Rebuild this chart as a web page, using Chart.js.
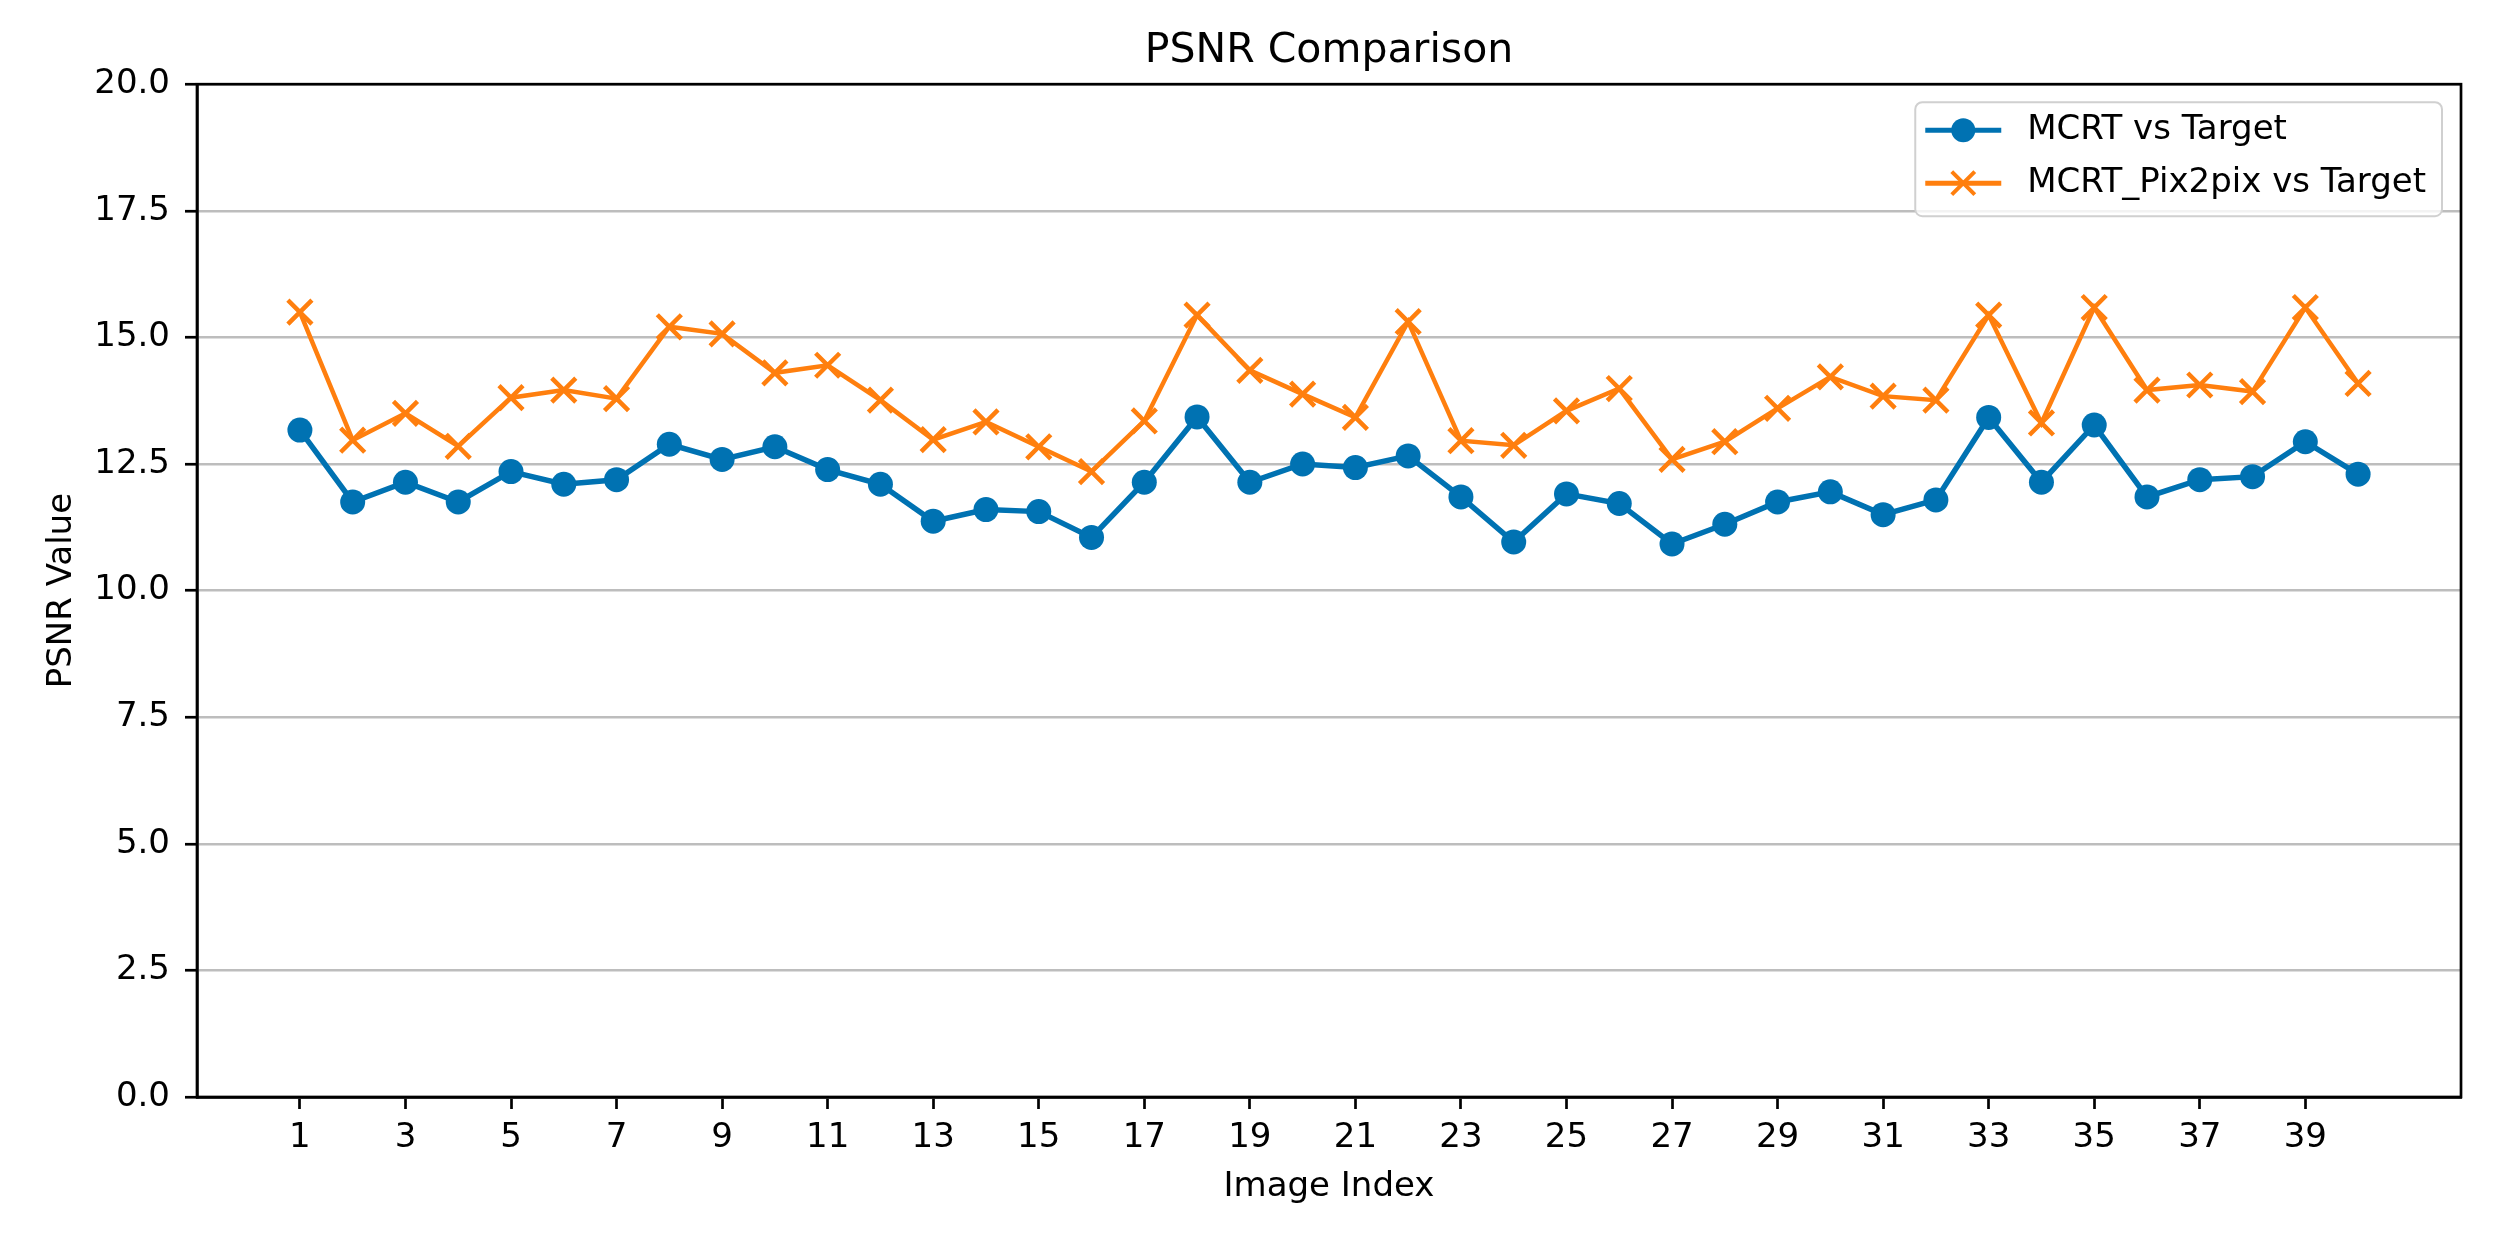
<!DOCTYPE html>
<html>
<head>
<meta charset="utf-8">
<title>PSNR Comparison</title>
<script src="https://cdn.jsdelivr.net/npm/chart.js@4.4.1/dist/chart.umd.min.js"></script>
<style>
    html, body { margin: 0; padding: 0; background: #ffffff; }
    #wrap { width: 2510px; height: 1253px; }
</style>
</head>
<body>
<div id="wrap"><canvas id="psnrChart" width="2510" height="1253"></canvas></div>
<script>
// 数据
const imageIndex = [1, 2, 3, 4, 5, 6, 7, 8, 9, 10, 11, 12, 13, 14, 15, 16, 17, 18, 19, 20,
    21, 22, 23, 24, 25, 26, 27, 28, 29, 30, 31, 32, 33, 34, 35, 36, 37, 38, 39, 40];
const mcrtVsTarget = [13.17, 11.75, 12.14, 11.75, 12.35, 12.10, 12.19, 12.89, 12.59, 12.84,
    12.39, 12.10, 11.37, 11.60, 11.56, 11.05, 12.14, 13.43, 12.14, 12.50,
    12.43, 12.66, 11.85, 10.96, 11.91, 11.72, 10.92, 11.31, 11.75, 11.95,
    11.50, 11.79, 13.42, 12.14, 13.27, 11.85, 12.19, 12.25, 12.94, 12.30];
const pix2pixVsTarget = [15.50, 12.97, 13.50, 12.85, 13.81, 13.96, 13.79, 15.21, 15.07, 14.30,
    14.45, 13.76, 12.98, 13.33, 12.84, 12.35, 13.35, 15.44, 14.35, 13.88,
    13.42, 15.31, 12.96, 12.87, 13.55, 13.99, 12.59, 12.94, 13.60, 14.22,
    13.84, 13.76, 15.44, 13.31, 15.59, 13.96, 14.06, 13.93, 15.59, 14.09];
const xTicks = [1, 3, 5, 7, 9, 11, 13, 15, 17, 19, 21, 23, 25, 27, 29, 31, 33, 35, 37, 39];
const yTicks = [0, 2.5, 5, 7.5, 10, 12.5, 15, 17.5, 20];
const seriesNames = ['MCRT vs Target', 'MCRT_Pix2pix vs Target'];

const BLUE = '#0072b2';
const ORANGE = '#ff7f0e';
const FONT = '"DejaVu Sans", sans-serif';

function toPoints(ys) {
    return imageIndex.map((x, i) => ({ x: x, y: ys[i] }));
}

// 坐标框（上、右边框）
const framePlugin = {
    id: 'frame',
    afterDatasetsDraw(chart) {
        const a = chart.chartArea;
        const ctx = chart.ctx;
        ctx.save();
        ctx.strokeStyle = '#000000';
        ctx.lineWidth = 2.7;
        ctx.strokeRect(a.left, a.top, a.right - a.left, a.bottom - a.top);
        ctx.restore();
    }
};

// 图例（右上角，画在绘图区内部）
const legendPlugin = {
    id: 'insideLegend',
    afterDraw(chart) {
        const a = chart.chartArea;
        const ctx = chart.ctx;
        ctx.save();
        ctx.font = '34px ' + FONT;
        const textW = Math.max(...seriesNames.map(t => ctx.measureText(t).width));
        const w = 112 + textW + 16;
        const h = 114;
        const right = a.right - 19;
        const left = right - w;
        const top = a.top + 18;

        ctx.beginPath();
        ctx.roundRect(left, top, w, h, 7);
        ctx.fillStyle = 'rgba(255,255,255,0.8)';
        ctx.fill();
        ctx.strokeStyle = '#d0d0d0';
        ctx.lineWidth = 2;
        ctx.stroke();

        const rows = [top + 28, top + 81];
        const colors = [BLUE, ORANGE];
        rows.forEach((y, i) => {
            ctx.strokeStyle = colors[i];
            ctx.lineWidth = 5;
            ctx.beginPath();
            ctx.moveTo(left + 10, y);
            ctx.lineTo(left + 86, y);
            ctx.stroke();
            const cx = left + 48;
            if (i === 0) {
                ctx.fillStyle = colors[i];
                ctx.beginPath();
                ctx.arc(cx, y, 12, 0, Math.PI * 2);
                ctx.fill();
            } else {
                const d = 11.5;
                ctx.lineWidth = 4;
                ctx.beginPath();
                ctx.moveTo(cx - d, y - d);
                ctx.lineTo(cx + d, y + d);
                ctx.moveTo(cx - d, y + d);
                ctx.lineTo(cx + d, y - d);
                ctx.stroke();
            }
            ctx.fillStyle = '#000000';
            ctx.textAlign = 'left';
            ctx.textBaseline = 'middle';
            ctx.fillText(seriesNames[i], left + 112, y);
        });
        ctx.restore();
    }
};

const ctx = document.getElementById('psnrChart');
new Chart(ctx, {
    type: 'line',
    data: {
        datasets: [{
            label: seriesNames[0],
            data: toPoints(mcrtVsTarget),
            borderColor: BLUE,
            backgroundColor: BLUE,
            borderWidth: 5.5,
            pointStyle: 'circle',
            pointRadius: 12.5,
            pointBorderWidth: 0,
            pointBackgroundColor: BLUE,
            tension: 0,
            order: 2
        }, {
            label: seriesNames[1],
            data: toPoints(pix2pixVsTarget),
            borderColor: ORANGE,
            backgroundColor: ORANGE,
            borderWidth: 4.5,
            pointStyle: 'crossRot',
            pointRadius: 17,
            pointBorderWidth: 4.5,
            pointBorderColor: ORANGE,
            tension: 0,
            order: 1
        }]
    },
    options: {
        responsive: false,
        devicePixelRatio: 1,
        animation: false,
        layout: {
            padding: { left: 0, right: 49, top: 0, bottom: 0 }
        },
        plugins: {
            legend: { display: false },
            tooltip: { enabled: false },
            title: {
                display: true,
                fullSize: false,
                text: 'PSNR Comparison',
                color: '#000000',
                font: { family: FONT, size: 41, weight: 'normal', lineHeight: 1.2 },
                padding: { top: 27, bottom: 8 }
            }
        },
        scales: {
            x: {
                type: 'linear',
                min: -0.95,
                max: 41.95,
                afterBuildTicks(scale) {
                    scale.ticks = xTicks.map(v => ({ value: v }));
                },
                afterFit(scale) {
                    scale.height = 156;
                },
                grid: {
                    drawOnChartArea: false,
                    drawTicks: true,
                    tickLength: 12,
                    tickWidth: 2.7,
                    tickColor: '#000000'
                },
                border: { display: true, color: '#000000', width: 2.7 },
                ticks: {
                    autoSkip: false,
                    maxRotation: 0,
                    color: '#000000',
                    padding: 9,
                    font: { family: FONT, size: 34 },
                    callback: v => String(v)
                },
                title: {
                    display: true,
                    text: 'Image Index',
                    color: '#000000',
                    font: { family: FONT, size: 34, lineHeight: 1.2 },
                    padding: { top: 0, bottom: 45 }
                }
            },
            y: {
                min: 0,
                max: 20,
                afterBuildTicks(scale) {
                    scale.ticks = yTicks.map(v => ({ value: v }));
                },
                afterFit(scale) {
                    scale.width = 197;
                },
                grid: {
                    color: '#bdbdbd',
                    lineWidth: 2.5,
                    drawTicks: true,
                    tickLength: 12,
                    tickWidth: 2.7,
                    tickColor: '#000000'
                },
                border: { display: true, color: '#000000', width: 2.7 },
                ticks: {
                    color: '#000000',
                    padding: 15,
                    font: { family: FONT, size: 34 },
                    callback: v => Number(v).toFixed(1)
                },
                title: {
                    display: true,
                    text: 'PSNR Value',
                    color: '#000000',
                    font: { family: FONT, size: 34, lineHeight: 1.2 },
                    padding: { top: 42, bottom: 0 }
                }
            }
        }
    },
    plugins: [framePlugin, legendPlugin]
});
</script>
</body>
</html>
